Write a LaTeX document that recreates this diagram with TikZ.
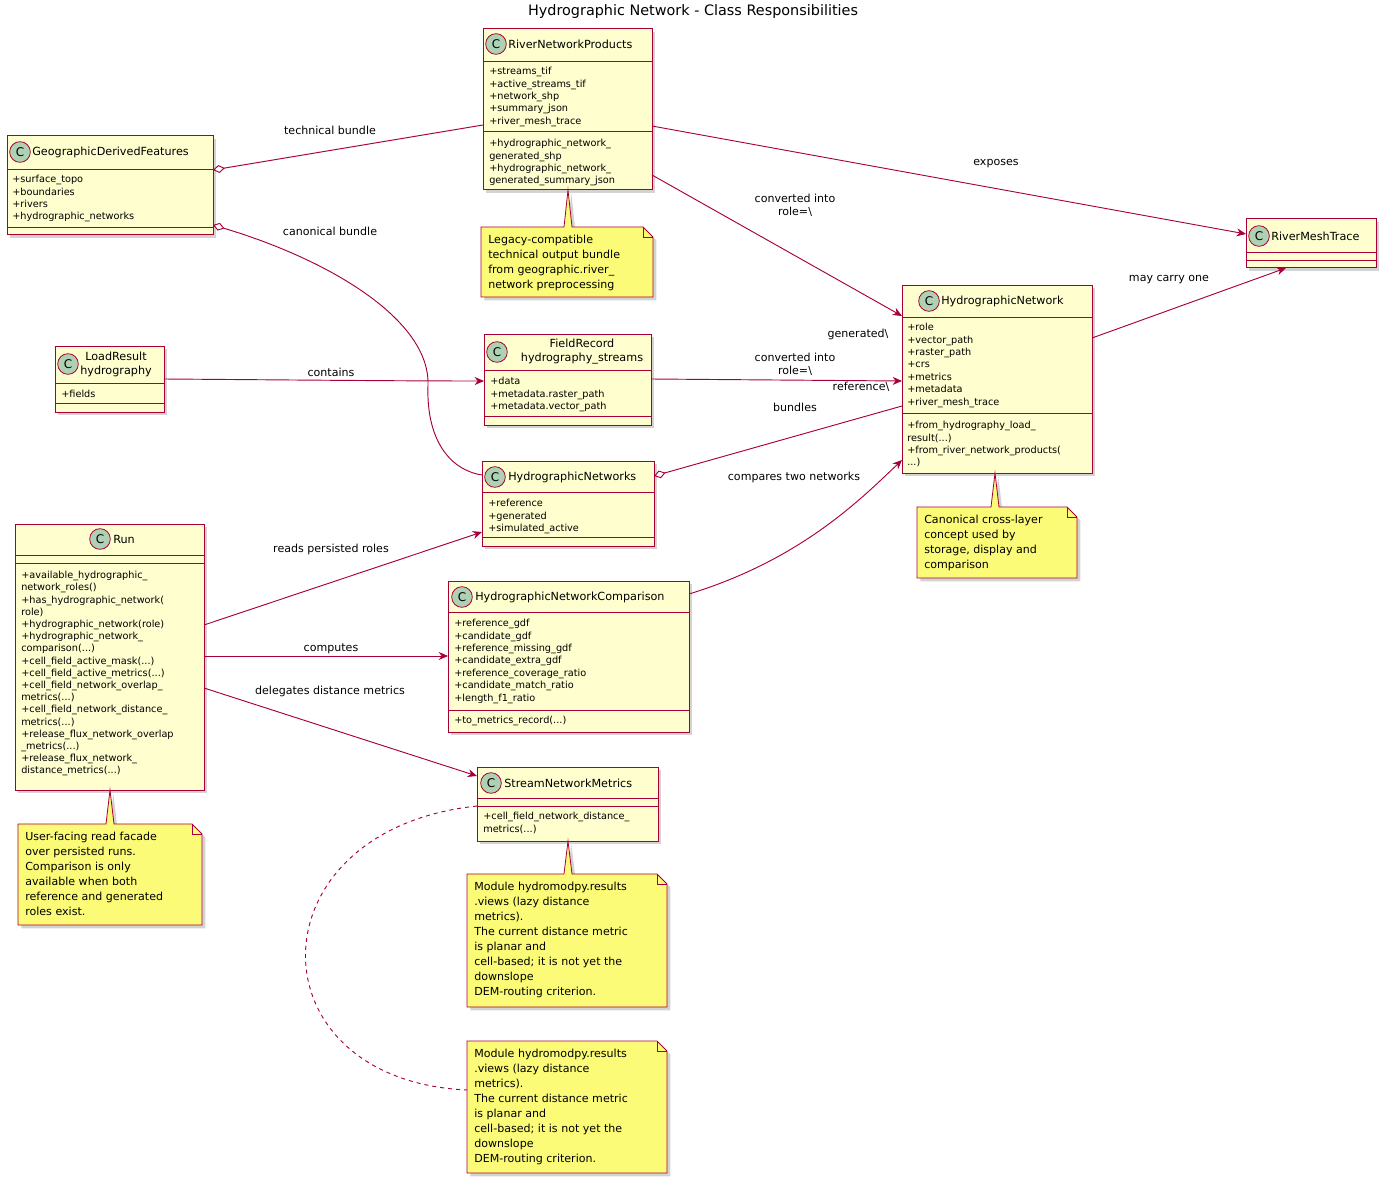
\documentclass[tikz,border=0pt]{standalone}
\usepackage{fontspec}
\setmainfont{DejaVu Sans}
\usetikzlibrary{arrows.meta,fit,shadows}
\definecolor{bd}{HTML}{A80036}
\definecolor{cf}{HTML}{FEFECE}
\definecolor{nf}{HTML}{FBFB77}
\definecolor{ic}{HTML}{ADD1B2}
\tikzset{
 clsbox/.style={draw=bd,fill=cf,inner sep=0,line width=0.75pt,drop shadow={opacity=0.35,shadow xshift=2.5pt,shadow yshift=-2.5pt}},
 sepl/.style={draw=bd,line width=0.6pt},
 cicon/.style={circle,draw=bd,fill=ic,line width=0.6pt,minimum size=15.5pt,inner sep=0,font=\fontsize{9}{9}\selectfont},
 cname/.style={font=\fontsize{8.4}{10.5}\selectfont,inner sep=0,align=center},
 body/.style={font=\fontsize{7.3}{9.3}\selectfont,inner sep=0,align=left,anchor=north west},
 notesh/.style={draw=bd,fill=nf,line width=0.6pt,drop shadow={opacity=0.35,shadow xshift=2.5pt,shadow yshift=-2.5pt}},
 notetx/.style={font=\fontsize{8.3}{11.25}\selectfont,inner sep=0,align=left,anchor=north west},
 lbl/.style={font=\fontsize{8.3}{10}\selectfont,inner sep=0,align=center},
 edge/.style={draw=bd,line width=0.7pt},
 arr/.style={edge,-{Stealth[length=7pt,width=6pt]}},
 agg/.style={edge,{Diamond[open,length=9pt,width=6pt]}-},
}
\newcommand\ucls[5]{\node[clsbox,fit={(#2,#3)(#4,#5)}] (#1) {};}
\newcommand\usep[3]{\draw[sepl] (#1,#3) -- (#2,#3);}
\newcommand\ucnote[8]{% id x1 y1 x2 y2 tailx taily text
 \draw[notesh] (#2,#3) -- (#6-4,#3) -- (#6,#7) -- (#6+4,#3) -- (#4-10,#3) -- (#4,#3+10) -- (#4,#5) -- (#2,#5) -- cycle;
 \draw[sepl] (#4-10,#3) -- (#4-10,#3+10) -- (#4,#3+10);
 \node[notetx] (#1) at (#2+7,#3+8) {#8};}
\begin{document}
\begin{tikzpicture}[x=0.75pt,y=-0.75pt]
\useasboundingbox (0,0) rectangle (1386,1184);
\node[font=\fontsize{10.8}{13}\selectfont] (title) at (693,12) {Hydrographic Network - Class Responsibilities};

% GeographicDerivedFeatures
\ucls{gdf}{7}{136}{213}{235}
\usep{7}{213}{169}\usep{7}{213}{227}
\node[cicon] (gdfi) at (20,152) {C};
\node[cname,anchor=west] (gdfn) at (32,152) {GeographicDerivedFeatures};
\node[body] (gdfa) at (12,175) {+surface\_topo\\+boundaries\\+rivers\\+hydrographic\_networks};

% RiverNetworkProducts
\ucls{rnp}{483}{29}{652}{190}
\usep{483}{652}{61}\usep{483}{652}{131}
\node[cicon] (rnpi) at (496,44) {C};
\node[cname,anchor=west] (rnpn) at (508,44) {RiverNetworkProducts};
\node[body] (rnpa) at (489,67) {+streams\_tif\\+active\_streams\_tif\\+network\_shp\\+summary\_json\\+river\_mesh\_trace};
\node[body] (rnpm) at (489,139) {+hydrographic\_network\_\\generated\_shp\\+hydrographic\_network\_\\generated\_summary\_json};

% RiverMeshTrace
\ucls{rmt}{1246}{219}{1376}{268}
\usep{1246}{1376}{252}\usep{1246}{1376}{260}
\node[cicon] (rmti) at (1259,236) {C};
\node[cname,anchor=west] (rmtn) at (1271,236) {RiverMeshTrace};

% HydrographicNetwork
\ucls{hn}{902}{285}{1092}{473}
\usep{902}{1092}{317}\usep{902}{1092}{413}
\node[cicon] (hni) at (929,301) {C};
\node[cname,anchor=west] (hnn) at (941,301) {HydrographicNetwork};
\node[body] (hna) at (907,323) {+role\\+vector\_path\\+raster\_path\\+crs\\+metrics\\+metadata\\+river\_mesh\_trace};
\node[body] (hnm) at (907,421) {+from\_hydrography\_load\_\\result(...)\\+from\_river\_network\_products(\\...)};

% LoadResult
\ucls{lr}{55}{346}{164}{412}
\usep{55}{164}{383}\usep{55}{164}{403}
\node[cicon] (lri) at (68,364) {C};
\node[cname] (lrn) at (116,364) {LoadResult\\hydrography};
\node[body] (lra) at (61,390) {+fields};

% FieldRecord
\ucls{fr}{484}{334}{651}{425}
\usep{484}{651}{370}\usep{484}{651}{416}
\node[cicon] (fri) at (497,352) {C};
\node[cname] (frn) at (582,352) {FieldRecord\\hydrography\_streams};
\node[body] (fra) at (490,377) {+data\\+metadata.raster\_path\\+metadata.vector\_path};

% HydrographicNetworks
\ucls{hns}{482}{461}{654}{546}
\usep{482}{654}{492}\usep{482}{654}{537}
\node[cicon] (hnsi) at (495,477) {C};
\node[cname,anchor=west] (hnsn) at (508,477) {HydrographicNetworks};
\node[body] (hnsa) at (488,499) {+reference\\+generated\\+simulated\_active};

% Run
\ucls{run}{15}{524}{204}{790}
\usep{15}{204}{555}\usep{15}{204}{563}
\node[cicon] (runi) at (100,539) {C};
\node[cname,anchor=west] (runn) at (113,539) {Run};
\node[body,font=\fontsize{7.3}{9.15}\selectfont] (runm) at (21,571) {+available\_hydrographic\_\\network\_roles()\\+has\_hydrographic\_network(\\role)\\+hydrographic\_network(role)\\+hydrographic\_network\_\\comparison(...)\\+cell\_field\_active\_mask(...)\\+cell\_field\_active\_metrics(...)\\+cell\_field\_network\_overlap\_\\metrics(...)\\+cell\_field\_network\_distance\_\\metrics(...)\\+release\_flux\_network\_overlap\\\_metrics(...)\\+release\_flux\_network\_\\distance\_metrics(...)};

% HydrographicNetworkComparison
\ucls{hnc}{448}{581}{689}{732}
\usep{448}{689}{612}\usep{448}{689}{710}
\node[cicon] (hnci) at (462,597) {C};
\node[cname,anchor=west] (hncn) at (475,597) {HydrographicNetworkComparison};
\node[body] (hnca) at (454,619) {+reference\_gdf\\+candidate\_gdf\\+reference\_missing\_gdf\\+candidate\_extra\_gdf\\+reference\_coverage\_ratio\\+candidate\_match\_ratio\\+length\_f1\_ratio};
\node[body] (hncm) at (454,716) {+to\_metrics\_record(...)};

% StreamNetworkMetrics
\ucls{snm}{477}{767}{658}{841}
\usep{477}{658}{798}\usep{477}{658}{806}
\node[cicon] (snmi) at (491,783) {C};
\node[cname,anchor=west] (snmn) at (504,783) {StreamNetworkMetrics};
\node[body] (snma) at (483,812) {+cell\_field\_network\_distance\_\\metrics(...)};

% notes
\ucnote{n1}{481}{227}{653}{297}{568}{190}{Legacy-compatible\\technical output bundle\\from geographic.river\_\\network preprocessing}
\ucnote{n2}{917}{507}{1077}{578}{995}{473}{Canonical cross-layer\\concept used by\\storage, display and\\comparison}
\ucnote{n3}{18}{824}{202}{925}{110}{790}{User-facing read facade\\over persisted runs.\\Comparison is only\\available when both\\reference and generated\\roles exist.}
\ucnote{n4}{467}{874}{667}{1007}{568}{841}{Module hydromodpy.results\\.views (lazy distance\\metrics).\\The current distance metric\\is planar and\\cell-based; it is not yet the\\downslope\\DEM-routing criterion.}
\draw[notesh] (467,1041) -- (657,1041) -- (667,1051) -- (667,1173) -- (467,1173) -- cycle;
\draw[sepl] (657,1041) -- (657,1051) -- (667,1051);
\node[notetx] (n5) at (474,1049) {Module hydromodpy.results\\.views (lazy distance\\metrics).\\The current distance metric\\is planar and\\cell-based; it is not yet the\\downslope\\DEM-routing criterion.};

% edge end points
\coordinate (gdfT) at (213,170); \coordinate (rnpT) at (483,125);
\coordinate (gdfC) at (213,225); \coordinate (hnsC) at (482,475);
\coordinate (rnpE) at (652,126); \coordinate (rmtE) at (1246,234);
\coordinate (rnpG) at (652,175); \coordinate (hnG) at (902,316);
\coordinate (lrC) at (164,379); \coordinate (frC) at (484,381);
\coordinate (frR) at (651,379); \coordinate (hnR) at (902,381);
\coordinate (hnsB) at (654,476); \coordinate (hnB) at (902,406);
\coordinate (hncC) at (689,594); \coordinate (hnX) at (902,460);
\coordinate (hnM) at (1092,338); \coordinate (rmtM) at (1286,268);
\coordinate (runR) at (204,625); \coordinate (hnsR) at (482,532);
\coordinate (runC) at (204,656); \coordinate (hncL) at (448,656);
\coordinate (runD) at (204,688); \coordinate (snmD) at (477,776);
\coordinate (snmN) at (477,806); \coordinate (n5L) at (467,1090);

\draw[agg] (gdfT) -- (rnpT);
\draw[agg] (gdfC) .. controls (330,260) and (430,320) .. (428,385) .. controls (426,440) and (450,470) .. (hnsC);
\draw[arr] (rnpE) -- (rmtE);
\draw[arr] (rnpG) -- (hnG);
\draw[arr] (lrC) .. controls (300,380) and (400,381) .. (frC);
\draw[arr] (frR) -- (hnR);
\draw[agg] (hnsB) -- (hnB);
\draw[arr] (hncC) .. controls (800,560) and (860,500) .. (hnX);
\draw[arr] (hnM) -- (rmtM);
\draw[arr] (runR) -- (hnsR);
\draw[arr] (runC) -- (hncL);
\draw[arr] (runD) -- (snmD);
\draw[edge,dashed] (snmN) .. controls (250,830) and (250,1080) .. (n5L);

% labels
\node[lbl] (l1) at (330,130) {technical bundle};
\node[lbl] (l2) at (330,231) {canonical bundle};
\node[lbl] (l3) at (996,164) {exposes};
\node[lbl] (l4) at (795,205) {converted into\\role=\textbackslash};
\node[lbl] (l5) at (858,334) {generated\textbackslash};
\node[lbl] (l6) at (331,372) {contains};
\node[lbl] (l7) at (795,364) {converted into\\role=\textbackslash};
\node[lbl] (l8) at (861,387) {reference\textbackslash};
\node[lbl] (l9) at (795,407) {bundles};
\node[lbl] (l10) at (794,477) {compares two networks};
\node[lbl] (l11) at (1169,280) {may carry one};
\node[lbl] (l12) at (331,549) {reads persisted roles};
\node[lbl] (l13) at (331,649) {computes};
\node[lbl] (l14) at (330,691) {delegates distance metrics};
\end{tikzpicture}
\end{document}
